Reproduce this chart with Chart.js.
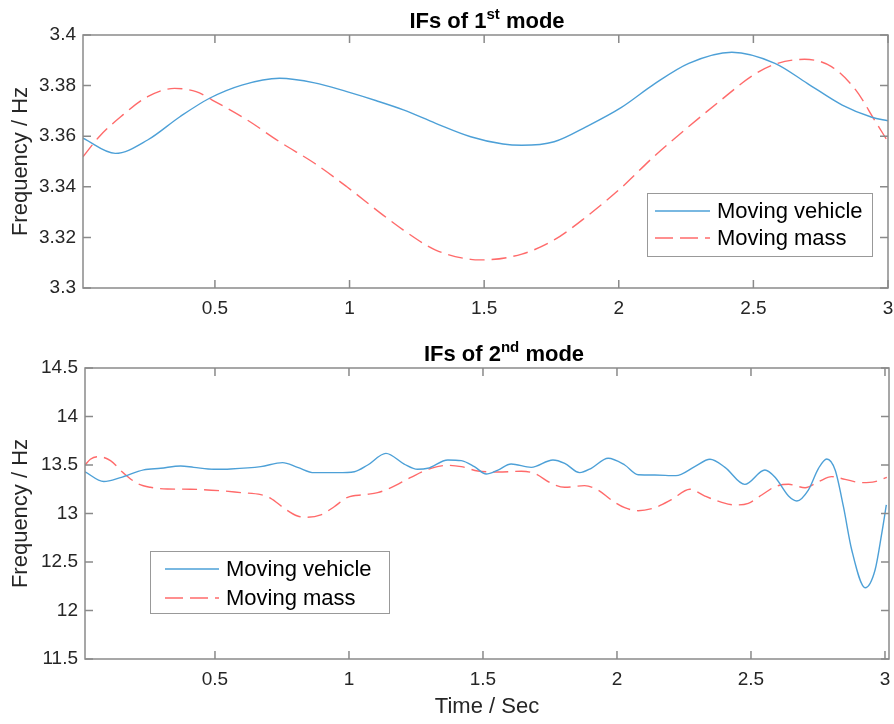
<!DOCTYPE html>
<html>
<head>
<meta charset="utf-8">
<script src="https://cdn.jsdelivr.net/npm/chart.js@4.4.1/dist/chart.umd.min.js"></script>
<style>
  body { margin: 0; background: #fff; }
  canvas { position: absolute; left: 0; }
  #top { top: 0; }
  #bottom { top: 340px; }
</style>
</head>
<body>
<canvas id="top" width="894" height="340"></canvas>
<canvas id="bottom" width="894" height="384"></canvas>
<script>
// ---- data ----
const seriesNames = ['Moving vehicle', 'Moving mass'];
const xTicks = [0.5, 1, 1.5, 2, 2.5, 3];
const yTicks1 = [3.3, 3.32, 3.34, 3.36, 3.38, 3.4];
const yTicks2 = [11.5, 12, 12.5, 13, 13.5, 14, 14.5];

// 1st mode
const t1Vehicle = [0.01, 0.13, 0.25, 0.37, 0.48, 0.6, 0.74, 0.87, 0.99, 1.1, 1.2, 1.32, 1.45, 1.57, 1.64, 1.76, 1.88, 2.01, 2.13, 2.26, 2.42, 2.58, 2.7, 2.83, 2.94, 3.0];
const f1Vehicle = [3.3592, 3.3532, 3.3585, 3.3677, 3.3750, 3.3802, 3.3829, 3.3811, 3.3776, 3.3740, 3.3704, 3.3651, 3.3598, 3.3569, 3.3564, 3.3578, 3.3638, 3.3714, 3.3805, 3.3888, 3.3932, 3.3888, 3.3809, 3.3723, 3.3675, 3.3661];
const t1Mass = [0.01, 0.07, 0.15, 0.25, 0.35, 0.43, 0.49, 0.62, 0.74, 0.87, 0.99, 1.11, 1.2, 1.32, 1.45, 1.49, 1.64, 1.76, 1.88, 2.01, 2.13, 2.26, 2.38, 2.5, 2.59, 2.69, 2.79, 2.88, 2.95, 3.0];
const f1Mass = [3.3519, 3.3598, 3.3677, 3.3756, 3.3789, 3.3776, 3.3743, 3.3664, 3.3578, 3.3493, 3.3400, 3.3300, 3.3229, 3.3150, 3.3113, 3.3111, 3.3134, 3.3190, 3.3282, 3.3397, 3.3519, 3.3638, 3.3743, 3.3842, 3.3888, 3.3904, 3.3875, 3.3783, 3.3664, 3.3578];

// 2nd mode
const t2Vehicle = [0.015, 0.085, 0.147, 0.234, 0.297, 0.372, 0.421, 0.496, 0.558, 0.671, 0.752, 0.808, 0.87, 0.957, 1.02, 1.07, 1.138, 1.206, 1.256, 1.294, 1.369, 1.419, 1.468, 1.512, 1.556, 1.605, 1.68, 1.761, 1.805, 1.861, 1.904, 1.967, 2.029, 2.079, 2.141, 2.22, 2.29, 2.347, 2.403, 2.477, 2.552, 2.59, 2.64, 2.671, 2.714, 2.752, 2.783, 2.814, 2.845, 2.876, 2.926, 2.963, 2.988, 3.005];
const f2Vehicle = [13.43, 13.33, 13.37, 13.45, 13.466, 13.49, 13.476, 13.456, 13.459, 13.483, 13.524, 13.476, 13.421, 13.421, 13.431, 13.50, 13.62, 13.51, 13.456, 13.466, 13.552, 13.545, 13.483, 13.407, 13.448, 13.51, 13.476, 13.552, 13.517, 13.421, 13.466, 13.569, 13.50, 13.40, 13.397, 13.39, 13.483, 13.559, 13.476, 13.30, 13.448, 13.373, 13.18, 13.129, 13.242, 13.466, 13.562, 13.448, 13.07, 12.624, 12.235, 12.418, 12.796, 13.088];
const t2Mass = [0.015, 0.035, 0.066, 0.11, 0.16, 0.21, 0.259, 0.322, 0.409, 0.521, 0.596, 0.671, 0.708, 0.758, 0.808, 0.845, 0.895, 0.945, 0.995, 1.057, 1.107, 1.157, 1.231, 1.306, 1.369, 1.419, 1.481, 1.556, 1.643, 1.692, 1.755, 1.805, 1.879, 1.929, 1.979, 2.029, 2.079, 2.141, 2.203, 2.272, 2.328, 2.391, 2.44, 2.49, 2.54, 2.59, 2.64, 2.702, 2.752, 2.801, 2.851, 2.914, 2.963, 3.007];
const f2Mass = [13.50, 13.559, 13.586, 13.545, 13.414, 13.311, 13.27, 13.253, 13.25, 13.235, 13.215, 13.194, 13.157, 13.054, 12.974, 12.961, 12.985, 13.07, 13.167, 13.194, 13.215, 13.266, 13.373, 13.466, 13.497, 13.483, 13.438, 13.428, 13.435, 13.414, 13.311, 13.27, 13.287, 13.242, 13.139, 13.06, 13.029, 13.06, 13.142, 13.25, 13.18, 13.115, 13.088, 13.105, 13.191, 13.277, 13.301, 13.266, 13.328, 13.38, 13.352, 13.318, 13.328, 13.373];

// ---- styling ----
const FONT = '"Liberation Sans", Arial, sans-serif';
const AXIS = '#8a8a8a';
const TEXT = '#262626';
const BLUE = 'rgb(77, 160, 215)';
const RED = 'rgba(255, 80, 80, 0.85)';
const DASH = [15, 7];

const toPoints = (xs, ys) => xs.map((x, i) => ({ x, y: ys[i] }));

// MATLAB style box with inward ticks on all four sides
const boxPlugin = {
  id: 'box',
  afterDraw(chart) {
    const { ctx, chartArea: a, scales } = chart;
    const len = 8;
    ctx.save();
    ctx.strokeStyle = AXIS;
    ctx.lineWidth = 1.5;
    ctx.strokeRect(a.left, a.top, a.right - a.left, a.bottom - a.top);
    ctx.beginPath();
    scales.x.ticks.forEach(t => {
      const px = scales.x.getPixelForValue(t.value);
      ctx.moveTo(px, a.bottom); ctx.lineTo(px, a.bottom - len);
      ctx.moveTo(px, a.top); ctx.lineTo(px, a.top + len);
    });
    scales.y.ticks.forEach(t => {
      const py = scales.y.getPixelForValue(t.value);
      ctx.moveTo(a.left, py); ctx.lineTo(a.left + len, py);
      ctx.moveTo(a.right, py); ctx.lineTo(a.right - len, py);
    });
    ctx.stroke();
    ctx.restore();
  }
};

// title with a superscript ordinal
const supTitle = {
  id: 'supTitle',
  afterDraw(chart, args, o) {
    const { ctx } = chart;
    ctx.save();
    ctx.fillStyle = '#000';
    ctx.textBaseline = 'alphabetic';
    const big = `bold ${o.size}px ${FONT}`;
    const small = `bold ${Math.round(o.size * 0.7)}px ${FONT}`;
    ctx.font = big;
    const w1 = ctx.measureText(o.main).width;
    const w3 = ctx.measureText(o.rest).width;
    ctx.font = small;
    const w2 = ctx.measureText(o.sup).width;
    let x = o.x - (w1 + w2 + w3) / 2;
    ctx.font = big;
    ctx.fillText(o.main, x, o.y); x += w1;
    ctx.font = small;
    ctx.fillText(o.sup, x, o.y - o.size * 0.42); x += w2;
    ctx.font = big;
    ctx.fillText(o.rest, x, o.y);
    ctx.restore();
  }
};

// legend box placed inside the axes
const boxLegend = {
  id: 'boxLegend',
  afterDatasetsDraw(chart, args, o) {
    const { ctx } = chart;
    ctx.save();
    ctx.fillStyle = '#fff';
    ctx.fillRect(o.x, o.y, o.w, o.h);
    ctx.strokeStyle = '#999';
    ctx.lineWidth = 1;
    ctx.strokeRect(o.x + 0.5, o.y + 0.5, o.w, o.h);
    ctx.font = `${o.size}px ${FONT}`;
    ctx.textBaseline = 'middle';
    chart.data.datasets.forEach((ds, i) => {
      const cy = o.y + o.rows[i];
      ctx.beginPath();
      ctx.strokeStyle = ds.borderColor;
      ctx.lineWidth = ds.borderWidth;
      ctx.setLineDash(ds.borderDash ? [18, 7] : []);
      ctx.moveTo(o.x + o.line[0], cy);
      ctx.lineTo(o.x + o.line[1], cy);
      ctx.stroke();
      ctx.setLineDash([]);
      ctx.fillStyle = '#000';
      ctx.fillText(ds.label, o.x + o.text, cy + 1);
    });
    ctx.restore();
  }
};

function makeChart(id, cfg) {
  return new Chart(document.getElementById(id), {
    type: 'line',
    data: {
      datasets: [
        { label: seriesNames[0], data: toPoints(cfg.tv, cfg.fv), borderColor: BLUE, borderWidth: 1.4,
          pointRadius: 0, cubicInterpolationMode: 'monotone' },
        { label: seriesNames[1], data: toPoints(cfg.tm, cfg.fm), borderColor: RED, borderWidth: 1.4,
          borderDash: DASH, pointRadius: 0, cubicInterpolationMode: 'monotone' }
      ]
    },
    options: {
      responsive: false,
      animation: false,
      devicePixelRatio: 1,
      layout: { padding: cfg.padding },
      plugins: {
        legend: { display: false },
        tooltip: { enabled: false },
        supTitle: cfg.title,
        boxLegend: cfg.legend
      },
      scales: {
        x: {
          type: 'linear', min: cfg.xmin, max: cfg.xmax,
          afterBuildTicks: s => { s.ticks = xTicks.map(v => ({ value: v })); },
          afterFit: s => { s.height = cfg.xHeight; s.paddingLeft = 0; s.paddingRight = 0; },
          grid: { display: false, drawTicks: false },
          border: { display: false },
          ticks: { color: TEXT, font: { family: FONT, size: 19 }, padding: 9, maxRotation: 0,
                   callback: v => String(v) },
          title: { display: !!cfg.xTitle, text: cfg.xTitle || '', color: TEXT,
                   font: { family: FONT, size: 22 }, padding: { top: 0, bottom: 4 } }
        },
        y: {
          min: cfg.ymin, max: cfg.ymax,
          afterBuildTicks: s => { s.ticks = cfg.yTicks.map(v => ({ value: v })); },
          afterFit: s => { s.width = cfg.yWidth; s.paddingTop = 0; s.paddingBottom = 0; },
          grid: { display: false, drawTicks: false },
          border: { display: false },
          ticks: { color: TEXT, font: { family: FONT, size: 19 }, padding: 7,
                   callback: v => String(+v.toFixed(2)) },
          title: { display: true, text: 'Frequency / Hz', color: TEXT,
                   font: { family: FONT, size: 22 }, padding: { top: 8, bottom: 0 } }
        }
      }
    },
    plugins: [boxPlugin, supTitle, boxLegend]
  });
}

makeChart('top', {
  tv: t1Vehicle, fv: f1Vehicle, tm: t1Mass, fm: f1Mass,
  xmin: 0.01, xmax: 3.0, ymin: 3.3, ymax: 3.4, yTicks: yTicks1,
  padding: { left: 0, top: 35, right: 6, bottom: 0 },
  xHeight: 52, yWidth: 83,
  title: { main: 'IFs of 1', sup: 'st', rest: ' mode', x: 487, y: 28, size: 22 },
  legend: { x: 647, y: 193, w: 225, h: 63, rows: [18, 45], line: [8, 63], text: 70, size: 22 }
});

makeChart('bottom', {
  tv: t2Vehicle, fv: f2Vehicle, tm: t2Mass, fm: f2Mass,
  xmin: 0.015, xmax: 3.015, ymin: 11.5, ymax: 14.5, yTicks: yTicks2,
  padding: { left: 0, top: 28, right: 5, bottom: 0 },
  xHeight: 65, yWidth: 85, xTitle: 'Time / Sec',
  title: { main: 'IFs of 2', sup: 'nd', rest: ' mode', x: 504, y: 21, size: 22 },
  legend: { x: 150, y: 211, w: 239, h: 62, rows: [18, 47], line: [15, 69], text: 76, size: 22 }
});
</script>
</body>
</html>
